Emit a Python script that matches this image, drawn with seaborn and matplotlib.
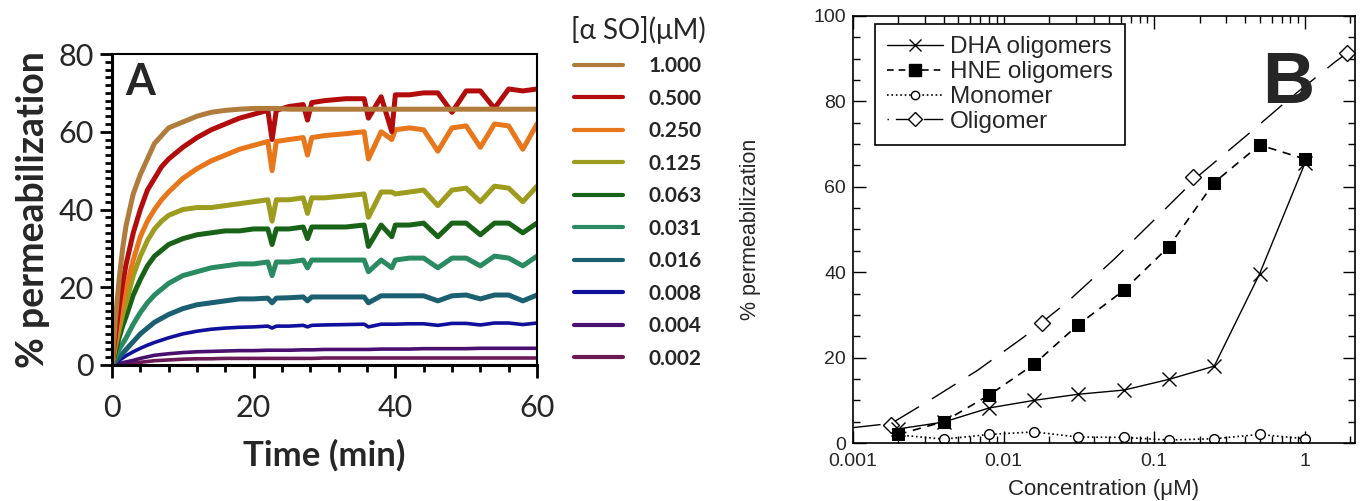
import numpy as np
import pandas as pd
import matplotlib
matplotlib.use("Agg")
import matplotlib.pyplot as plt
from matplotlib.lines import Line2D
from matplotlib.ticker import MultipleLocator, LogLocator, NullFormatter, FixedLocator, FixedFormatter
import seaborn as sns

sns.set_theme(style="white")
plt.rcParams['font.family'] = ['Lato', 'DejaVu Sans']

# ---------------- Panel A data ----------------
time_min = [0, 0.5, 1, 1.5, 2, 3, 4, 5, 6, 7, 8, 10, 12, 14, 16, 18, 20, 22, 22.6, 23.2,
            25, 27, 27.6, 28.2, 30, 33, 35.6, 36.2, 38, 39.5, 40, 42, 44, 46, 48, 50,
            52, 54, 56, 58, 60]
conc_labels = ["1.000", "0.500", "0.250", "0.125", "0.063", "0.031", "0.016", "0.008", "0.004", "0.002"]
perm_1000 = [0, 12, 22, 30, 36, 44, 49, 53, 57, 59, 61, 62.5, 64, 65, 65.5, 65.8, 66, 66, 66, 66,
             65.8, 65.8, 65.8, 65.8, 65.8, 65.8, 65.8, 65.8, 65.8, 65.8, 65.8, 65.8, 65.8, 65.8, 65.8, 65.8,
             65.8, 65.8, 65.8, 65.8, 65.8]
perm_0500 = [0, 8, 15, 21, 26, 34, 40, 45, 48, 51, 53, 56, 58.5, 60.5, 62, 63.5, 64.5, 65.5, 58, 65.5,
             66.5, 67, 63, 67.5, 68, 68.5, 68.5, 63.5, 69, 60, 69.5, 69.5, 70, 70, 65, 70.5,
             70.5, 66, 71, 70.5, 71]
perm_0250 = [0, 6, 11, 16, 20, 27, 33, 37, 40, 42.5, 44.5, 48, 50.5, 52.5, 54, 55.5, 56.5, 57.5, 50, 57.5,
             58, 58.5, 54, 58.5, 59, 59.5, 60, 53, 60, 58, 60.5, 61, 60.5, 55, 61, 61.5,
             56, 62, 61.5, 55.5, 62]
perm_0125 = [0, 5, 9, 13, 16, 23, 28, 32, 35, 37, 38.5, 40, 40.5, 40.5, 41, 41.5, 42, 42.5, 37, 42.5,
             42.5, 43, 39, 43, 43, 43.5, 44, 38, 44.5, 44.5, 44, 44.5, 45, 41, 45, 45.5,
             42, 46, 45.5, 42, 46]
perm_0063 = [0, 3.5, 7, 10, 12.5, 18, 22, 25.5, 28, 29.5, 31, 32.5, 33.5, 34, 34.5, 34.5, 35, 35, 31, 35,
             35, 35.5, 32.5, 35.5, 35.5, 35.5, 36, 30.5, 36, 33, 36, 36, 36.5, 33, 36.5, 36.5,
             33.5, 36.5, 36.5, 34, 36.5]
perm_0031 = [0, 2, 4, 5.5, 7, 10.5, 13.5, 16, 18, 19.5, 21, 23, 24, 25, 25.5, 26, 26, 26.5, 23, 26.5,
             26.5, 27, 25, 27, 27, 27, 27, 24, 27, 25, 27, 27.5, 27.5, 25, 27.5, 27.5,
             25.5, 28, 27.5, 25.5, 28]
perm_0016 = [0, 1, 2, 3, 4, 6, 8, 9.5, 11, 12, 13, 14.5, 15.5, 16, 16.5, 17, 17, 17.2, 16, 17.2,
             17.3, 17.5, 16.5, 17.5, 17.5, 17.5, 17.5, 16, 17.8, 17.8, 17.8, 17.8, 17.8, 16.5, 17.8, 18,
             17, 18, 18, 16.5, 18]
perm_0008 = [0, 0.6, 1.2, 1.8, 2.4, 3.4, 4.3, 5.1, 5.8, 6.4, 7, 8, 8.7, 9.2, 9.5, 9.7, 9.8, 10, 9.5, 10,
             10, 10.2, 9.8, 10.2, 10.3, 10.4, 10.5, 9.8, 10.5, 10.5, 10.5, 10.6, 10.6, 10.2, 10.7, 10.7,
             10.3, 10.8, 10.8, 10.4, 10.8]
perm_0004 = [0, 0.2, 0.4, 0.6, 0.8, 1.2, 1.7, 2.1, 2.5, 2.7, 2.9, 3.2, 3.4, 3.5, 3.6, 3.7, 3.7, 3.8, 3.8, 3.8,
             3.8, 3.9, 3.9, 3.9, 4.0, 4.0, 4.0, 4.0, 4.1, 4.1, 4.1, 4.1, 4.2, 4.2, 4.2, 4.2,
             4.3, 4.3, 4.3, 4.3, 4.3]
perm_0002 = [0, 0.1, 0.2, 0.3, 0.35, 0.5, 0.7, 0.9, 1.1, 1.2, 1.3, 1.5, 1.6, 1.6, 1.7, 1.7, 1.7, 1.7, 1.7, 1.7,
             1.7, 1.7, 1.7, 1.7, 1.8, 1.8, 1.8, 1.8, 1.8, 1.8, 1.8, 1.8, 1.8, 1.8, 1.8, 1.8,
             1.8, 1.8, 1.8, 1.8, 1.8]
series_a = [perm_1000, perm_0500, perm_0250, perm_0125, perm_0063,
            perm_0031, perm_0016, perm_0008, perm_0004, perm_0002]
colors_a = ["#b07c3c", "#b30c0c", "#e8761a", "#9e9c1e", "#186318",
            "#2a8a62", "#1a6070", "#10109c", "#4a1070", "#6a1a55"]

# ---------------- Panel B data ----------------
conc_b = [0.002, 0.004, 0.008, 0.016, 0.031, 0.063, 0.125, 0.25, 0.5, 1.0]
dha = [3.3, 4.9, 8.2, 10.0, 11.4, 12.4, 14.9, 18.0, 39.6, 65.5]
hne = [2.0, 5.0, 11.2, 18.5, 27.6, 35.8, 46.0, 61.0, 69.8, 66.5]
monomer = [1.9, 0.9, 2.0, 2.6, 1.4, 1.3, 0.7, 1.0, 2.0, 1.0]
olig_conc = [0.0018, 0.018, 0.18, 1.9]
olig_vals = [4.2, 28.0, 62.3, 91.3]
olig_fit_conc = [0.001, 0.0018, 0.0034, 0.0067, 0.0136, 0.0264, 0.054, 0.105, 0.2, 0.4, 0.8, 1.58, 1.9]
olig_fit_vals = [3.6, 4.6, 10.5, 17.0, 24.8, 33.0, 43.0, 53.0, 62.8, 71.7, 80.8, 89.2, 91.3]

# ---------------- Figure ----------------
W, H = 1361, 501
fig = plt.figure(figsize=(W / 100, H / 100), dpi=100)
fig.patch.set_facecolor("white")

def fr(l, r, t, b):
    return [l / W, 1 - b / H, (r - l) / W, (b - t) / H]

ax_a = fig.add_axes(fr(112, 537, 54, 365))
ax_b = fig.add_axes(fr(853, 1355, 16, 443))

# Panel A
rows = []
for lab, vals in zip(conc_labels, series_a):
    for t, v in zip(time_min, vals):
        rows.append((lab, t, v))
df_a = pd.DataFrame(rows, columns=["conc", "time", "perm"])
pal = dict(zip(conc_labels, colors_a))
order_draw = conc_labels[::-1]
for lab in order_draw:
    sub = df_a[df_a["conc"] == lab]
    lw = 3.6 if float(lab) >= 0.016 else 2.6
    sns.lineplot(data=sub, x="time", y="perm", color=pal[lab], lw=lw, ax=ax_a,
                 estimator=None, sort=False, legend=False)

ax_a.set_xlim(0, 60)
ax_a.set_ylim(0, 80)
ax_a.xaxis.set_major_locator(MultipleLocator(20))
ax_a.xaxis.set_minor_locator(MultipleLocator(4))
ax_a.yaxis.set_major_locator(MultipleLocator(20))
ax_a.yaxis.set_minor_locator(MultipleLocator(2))
ax_a.tick_params(axis="both", which="major", direction="out", length=9, width=2,
                 labelsize=22, color="black", bottom=True, left=True, pad=4)
ax_a.tick_params(axis="both", which="minor", direction="out", length=5, width=2,
                 color="black", bottom=True, left=True)
ax_a.tick_params(axis="x", which="major", pad=12)
for s in ["left", "bottom"]:
    ax_a.spines[s].set_linewidth(2.2)
    ax_a.spines[s].set_color("black")
for s in ["top", "right"]:
    ax_a.spines[s].set_linewidth(1.5)
    ax_a.spines[s].set_color("black")
ax_a.set_xlabel("Time (min)", fontsize=25, fontweight="bold", labelpad=12)
ax_a.set_ylabel("% permeabilization", fontsize=27, fontweight="bold", labelpad=6)
ax_a.text(0.03, 0.868, "A", transform=ax_a.transAxes, fontsize=31, fontweight="bold",
          va="baseline", ha="left")

handles_a = [Line2D([], [], color=c, lw=3.0) for c in colors_a]
leg_a = ax_a.legend(handles_a, conc_labels, loc="upper left",
                    bbox_to_anchor=(556 / W, 1 - 1 / H), bbox_transform=fig.transFigure,
                    frameon=False, title="[\u03b1 SO](\u03bcM)", title_fontsize=20,
                    prop={"size": 15, "weight": "bold", "family": ["Lato", "DejaVu Sans"]},
                    handlelength=2.35, handletextpad=1.25, labelspacing=0.6, borderpad=0.2)

# Panel B
bfont = ["Liberation Sans", "DejaVu Sans"]
df_b = pd.DataFrame({"conc": conc_b, "DHA": dha, "HNE": hne, "Monomer": monomer})
df_fit = pd.DataFrame({"conc": olig_fit_conc, "perm": olig_fit_vals})
df_olig = pd.DataFrame({"conc": olig_conc, "perm": olig_vals})

sns.lineplot(data=df_fit, x="conc", y="perm", ax=ax_b, color="black", lw=1.0,
             estimator=None, sort=False, legend=False)
fit_line = ax_b.lines[-1]
fit_line.set_dashes((20, 11))
sns.lineplot(data=df_olig, x="conc", y="perm", ax=ax_b, color="black", lw=0,
             marker="D", markersize=8, markerfacecolor="white", markeredgecolor="black",
             markeredgewidth=1.0, estimator=None, legend=False)
sns.lineplot(data=df_b, x="conc", y="Monomer", ax=ax_b, color="black", lw=1.2,
             linestyle=":", marker="o", markersize=7, markerfacecolor="white",
             markeredgecolor="black", markeredgewidth=1.0, estimator=None, legend=False)
sns.lineplot(data=df_b, x="conc", y="DHA", ax=ax_b, color="black", lw=1.0,
             marker="x", markersize=10, markeredgewidth=1.0, markeredgecolor="black",
             estimator=None, legend=False)
sns.lineplot(data=df_b, x="conc", y="HNE", ax=ax_b, color="black", lw=1.2,
             marker="s", markersize=9, markerfacecolor="black", markeredgecolor="black",
             estimator=None, legend=False)
ax_b.lines[-1].set_dashes((5, 4))

ax_b.set_xscale("log")
ax_b.set_xlim(0.001, 2.15)
ax_b.set_ylim(0, 100)
ax_b.xaxis.set_major_locator(FixedLocator([0.001, 0.01, 0.1, 1]))
ax_b.xaxis.set_major_formatter(FixedFormatter(["0.001", "0.01", "0.1", "1"]))
ax_b.xaxis.set_minor_locator(LogLocator(base=10, subs=np.arange(2, 10)))
ax_b.xaxis.set_minor_formatter(NullFormatter())
ax_b.yaxis.set_major_locator(MultipleLocator(20))
ax_b.yaxis.set_minor_locator(MultipleLocator(5))
ax_b.tick_params(axis="both", which="major", direction="in", length=9, width=1.0,
                 labelsize=14, color="black", top=True, right=True, bottom=True, left=True,
                 pad=5)
ax_b.tick_params(axis="x", which="major", pad=7)
ax_b.tick_params(axis="both", which="minor", direction="in", length=5, width=1.0,
                 color="black", top=True, right=True, bottom=True, left=True)
for lab in ax_b.get_xticklabels() + ax_b.get_yticklabels():
    lab.set_family(bfont)
for s in ax_b.spines.values():
    s.set_linewidth(1.2)
    s.set_color("black")
ax_b.set_xlabel("Concentration (\u03bcM)", fontsize=16, family=bfont, labelpad=7)
ax_b.set_ylabel("% permeabilization", fontsize=15.5, family=bfont, labelpad=38)
ax_b.text(0.815, 0.796, "B", transform=ax_b.transAxes, fontsize=52, fontweight="bold",
          family=bfont, va="baseline", ha="left")

h_dha = Line2D([], [], color="black", lw=1.0, marker="x", markersize=9, markeredgecolor="black")
h_hne = Line2D([], [], color="black", lw=1.2, marker="s", markersize=8, dashes=(4, 3))
h_mono = Line2D([], [], color="black", lw=1.2, linestyle=":", marker="o", markersize=6,
                markerfacecolor="white")
h_olig = Line2D([], [], color="black", lw=1.0, marker="D", markersize=7, markerfacecolor="white",
                dashes=(1, 5, 14, 0.1))
leg_b = ax_b.legend([h_dha, h_hne, h_mono, h_olig],
                    ["DHA oligomers", "HNE oligomers", "Monomer", "Oligomer"],
                    loc="upper left", bbox_to_anchor=(875 / W, 1 - 24 / H),
                    bbox_transform=fig.transFigure, frameon=True, fancybox=False,
                    edgecolor="black", framealpha=1, prop={"size": 17.5, "family": bfont},
                    handlelength=2.3, handletextpad=0.3, labelspacing=0.12, borderpad=0.5,
                    borderaxespad=0)
leg_b.get_frame().set_linewidth(1.2)

fig.savefig("out.png", dpi=100, facecolor="white")
